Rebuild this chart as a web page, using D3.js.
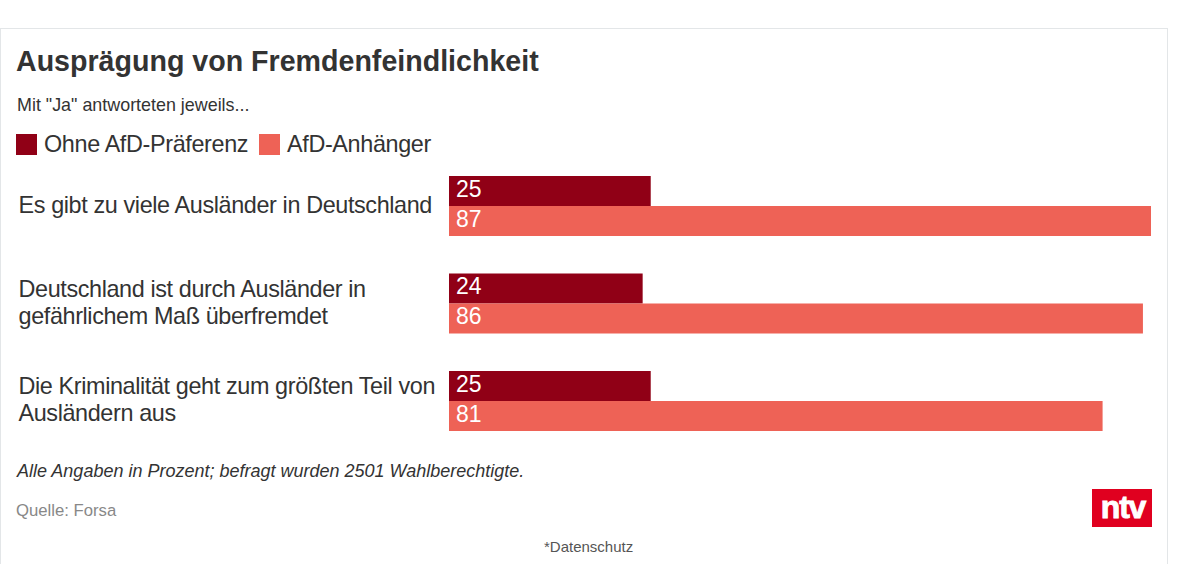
<!DOCTYPE html>
<html lang="de">
<head>
<meta charset="utf-8">
<script src="https://cdn.jsdelivr.net/npm/d3@7"></script>
<style>
html,body{margin:0;padding:0;background:#fff;overflow:hidden}
svg{display:block}
text{font-family:"Liberation Sans",Arial,sans-serif}
</style>
</head>
<body>
<svg id="c" width="1195" height="564"></svg>
<script>
const titleText = "Ausprägung von Fremdenfeindlichkeit";
const subtitleText = 'Mit "Ja" antworteten jeweils...';
const noteText = "Alle Angaben in Prozent; befragt wurden 2501 Wahlberechtigte.";
const sourceText = "Quelle: Forsa";
const privacyText = "*Datenschutz";
const logoText = "ntv";
const seriesNames = ["Ohne AfD-Präferenz", "AfD-Anhänger"];
const seriesColors = ["#900016", "#ee6256"];
const categories = [
  ["Es gibt zu viele Ausländer in Deutschland"],
  ["Deutschland ist durch Ausländer in", "gefährlichem Maß überfremdet"],
  ["Die Kriminalität geht zum größten Teil von", "Ausländern aus"]
];
const ohneAfD = [25, 24, 25];
const afdAnhaenger = [87, 86, 81];

const svg = d3.select("#c");
const ink = "#333333";

svg.append("rect").attr("x", 0.5).attr("y", 28.5).attr("width", 1167).attr("height", 560)
  .attr("fill", "#fff").attr("stroke", "#e3e6e8");

svg.append("text").attr("x", 16).attr("y", 71).attr("font-size", 28.6).attr("font-weight", 700)
  .attr("fill", ink).text(titleText);
svg.append("text").attr("x", 17).attr("y", 111).attr("font-size", 17.9).attr("fill", ink).text(subtitleText);

// legend
const legendX = [16, 259];
seriesNames.forEach((n, i) => {
  svg.append("rect").attr("x", legendX[i]).attr("y", 134).attr("width", 21).attr("height", 21)
    .attr("fill", seriesColors[i]);
  svg.append("text").attr("x", legendX[i] + 28).attr("y", 152).attr("font-size", 23.4)
    .attr("letter-spacing", -0.36).attr("fill", ink).text(n);
});

// scales
const x = d3.scaleLinear().domain([0, 87]).range([449, 1151]);
const y0 = d3.scaleBand().domain(d3.range(categories.length)).range([176, 431]).paddingInner(0.3846).paddingOuter(0);
const y1 = d3.scaleBand().domain([0, 1]).range([0, y0.bandwidth()]);

const values = [ohneAfD, afdAnhaenger];
const groups = svg.selectAll("g.group").data(categories).join("g").attr("class", "group")
  .attr("transform", (d, i) => `translate(0,${y0(i)})`);

groups.each(function (lines, i) {
  const g = d3.select(this);
  values.forEach((vals, s) => {
    g.append("rect").attr("x", x(0)).attr("y", y1(s))
      .attr("width", x(vals[i]) - x(0)).attr("height", y1.bandwidth())
      .attr("fill", seriesColors[s]);
    g.append("text").attr("x", x(0) + 7).attr("y", y1(s) + 21).attr("font-size", 23)
      .attr("fill", "#fff").text(vals[i]);
  });
  const lh = 27;
  const mid = y0.bandwidth() / 2;
  lines.forEach((l, k) => {
    g.append("text").attr("x", 18.5)
      .attr("y", mid + 7 + (k - (lines.length - 1) / 2) * lh)
      .attr("font-size", 23.4).attr("letter-spacing", -0.38).attr("fill", ink).text(l);
  });
});

svg.append("text").attr("x", 17).attr("y", 477).attr("font-size", 18).attr("font-style", "italic")
  .attr("fill", ink).text(noteText);
svg.append("text").attr("x", 16).attr("y", 516).attr("font-size", 16.7).attr("fill", "#888888").text(sourceText);
svg.append("text").attr("x", 544).attr("y", 552).attr("font-size", 15).attr("fill", "#555555").text(privacyText);

svg.append("rect").attr("x", 1092).attr("y", 489).attr("width", 60).attr("height", 38).attr("fill", "#e0001f");
svg.append("text").attr("x", 1123).attr("y", 518).attr("text-anchor", "middle")
  .attr("font-size", 32).attr("font-weight", 700).attr("letter-spacing", -1.2).attr("fill", "#fff")
  .attr("stroke", "#fff").attr("stroke-width", 0.9).text(logoText);
</script>
</body>
</html>
